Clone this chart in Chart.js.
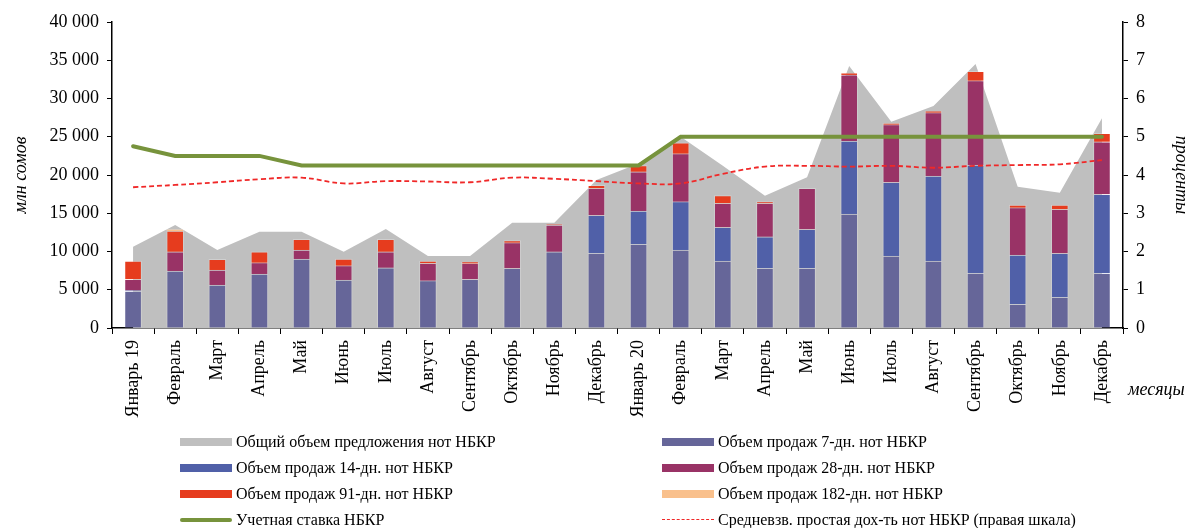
<!DOCTYPE html>
<html>
<head>
<meta charset="utf-8">
<script src="https://cdn.jsdelivr.net/npm/chart.js@4"></script>
<style>
  body { margin: 0; background: #fff; }
  #wrap { position: relative; width: 1192px; height: 528px; font-family: "Liberation Serif", serif; }
  .lg { position: absolute; font-size: 16px; line-height: 18px; color: #000; white-space: nowrap; }
  .sym { position: absolute; }
</style>
</head>
<body>
<div id="wrap">
  <canvas id="myChart"></canvas>
  <div id="legend"></div>
  <div class="lg" style="left:1128px; top:380px; font-style:italic; font-size:18px;">месяцы</div>
</div>
<script>
// данные
const months = ["Январь 19", "Февраль", "Март", "Апрель", "Май", "Июнь", "Июль", "Август", "Сентябрь", "Октябрь", "Ноябрь", "Декабрь",
  "Январь 20", "Февраль", "Март", "Апрель", "Май", "Июнь", "Июль", "Август", "Сентябрь", "Октябрь", "Ноябрь", "Декабрь"];

const total = [10630, 13460, 10200, 12590, 12590, 9970, 12940, 9410, 9410, 13770, 13770, 19350,
  21500, 25010, 21200, 17300, 19700, 34250, 26970, 29020, 34510, 18470, 17690, 27410];

const sales7 = [4800, 7450, 5620, 7060, 9020, 6270, 7880, 6190, 6370, 7800, 9970, 9760,
  10940, 10200, 8760, 7800, 7800, 14900, 9410, 8760, 7150, 3100, 4010, 7150];
const sales14 = [100, 0, 0, 0, 0, 0, 0, 0, 0, 0, 0, 4970,
  4350, 6310, 4400, 4130, 5100, 9540, 9630, 11110, 14160, 6440, 5750, 10330];
const sales28 = [1470, 2520, 1960, 1480, 1180, 1880, 2090, 2260, 2080, 3350, 3490, 3530,
  5140, 6280, 3140, 4370, 5360, 8670, 7540, 8280, 11020, 6190, 5750, 6870];
const sales91 = [2390, 2710, 1400, 1430, 1390, 870, 1620, 310, 180, 270, 60, 390,
  790, 1430, 1000, 210, 0, 220, 170, 220, 1220, 350, 570, 1100];
const sales182 = [0, 220, 0, 0, 0, 0, 0, 0, 0, 0, 0, 0,
  0, 0, 0, 0, 0, 0, 0, 0, 0, 0, 0, 0];

const rate = [4.75, 4.5, 4.5, 4.5, 4.25, 4.25, 4.25, 4.25, 4.25, 4.25, 4.25, 4.25,
  4.25, 5, 5, 5, 5, 5, 5, 5, 5, 5, 5, 5];
const yieldAvg = [3.68, 3.74, 3.81, 3.89, 3.93, 3.78, 3.84, 3.83, 3.81, 3.93, 3.90, 3.84,
  3.78, 3.78, 4.03, 4.22, 4.24, 4.22, 4.24, 4.19, 4.24, 4.26, 4.28, 4.39];

const leftTicks = [0, 5000, 10000, 15000, 20000, 25000, 30000, 35000, 40000];
const rightTicks = [0, 1, 2, 3, 4, 5, 6, 7, 8];

const fontName = "Liberation Serif";

function fmt(v) {
  return String(v).replace(/\B(?=(\d{3})+(?!\d))/g, " ");
}

function bar(label, data, color) {
  return {
    type: "bar",
    label: label,
    data: data,
    backgroundColor: color,
    borderColor: "rgba(255,255,255,0.25)",
    borderWidth: 1,
    barThickness: 17,
    stack: "sales",
    yAxisID: "y",
    order: 2,
  };
}

const ctx = document.getElementById("myChart");

new Chart(ctx, {
  data: {
    labels: months,
    datasets: [
      {
        type: "line",
        label: "Общий объем предложения нот НБКР",
        data: total,
        backgroundColor: "#bfbfbf",
        borderWidth: 0,
        pointRadius: 0,
        fill: "origin",
        tension: 0,
        stack: "area",
        yAxisID: "y",
        order: 3,
      },
      bar("Объем продаж 7-дн. нот НБКР", sales7, "#666699"),
      bar("Объем продаж 14-дн. нот НБКР", sales14, "#5060a8"),
      bar("Объем продаж 28-дн. нот НБКР", sales28, "#993366"),
      bar("Объем продаж 91-дн. нот НБКР", sales91, "#e63c1e"),
      bar("Объем продаж 182-дн. нот НБКР", sales182, "#f9c08c"),
      {
        type: "line",
        label: "Учетная ставка НБКР",
        data: rate,
        borderColor: "#77933c",
        borderWidth: 4,
        borderCapStyle: "round",
        pointRadius: 0,
        fill: false,
        tension: 0,
        yAxisID: "y1",
        order: 1,
      },
      {
        type: "line",
        label: "Средневзв. простая дох-ть нот НБКР (правая шкала)",
        data: yieldAvg,
        borderColor: "#f02828",
        borderWidth: 1.8,
        borderDash: [5, 3],
        pointRadius: 0,
        fill: false,
        tension: 0.4,
        yAxisID: "y1",
        order: 1,
      },
    ],
  },
  options: {
    responsive: true,
    maintainAspectRatio: false,
    animation: false,
    layout: { padding: { top: 22, left: 0, right: 0, bottom: 0 } },
    plugins: {
      legend: { display: false },
      tooltip: { enabled: false },
    },
    scales: {
      x: {
        stacked: true,
        offset: true,
        grid: { offset: true, drawOnChartArea: false, tickLength: 6, color: "#000" },
        border: { color: "#000", width: 1.5 },
        ticks: {
          autoSkip: false,
          minRotation: 90,
          maxRotation: 90,
          color: "#000",
          padding: 6,
          font: { family: fontName, size: 18 },
        },
        afterFit: function (s) { s.height = 200; },
      },
      y: {
        position: "left",
        stacked: true,
        min: leftTicks[0],
        max: leftTicks[leftTicks.length - 1],
        afterBuildTicks: function (s) { s.ticks = leftTicks.map(function (v) { return { value: v }; }); },
        ticks: {
          color: "#000",
          padding: 8,
          font: { family: fontName, size: 18 },
          callback: function (v) { return fmt(v); },
        },
        grid: { drawOnChartArea: false, tickLength: 5, color: "#000" },
        border: { color: "#000", width: 1.5 },
        title: {
          display: true,
          text: "млн сомов",
          color: "#000",
          padding: { top: 10, bottom: 0 },
          font: { family: fontName, size: 18, style: "italic" },
        },
        afterFit: function (s) { s.width = 112; },
      },
      y1: {
        position: "right",
        min: rightTicks[0],
        max: rightTicks[rightTicks.length - 1],
        afterBuildTicks: function (s) { s.ticks = rightTicks.map(function (v) { return { value: v }; }); },
        ticks: {
          color: "#000",
          padding: 8,
          font: { family: fontName, size: 18 },
        },
        grid: { drawOnChartArea: false, tickLength: 5, color: "#000" },
        border: { color: "#000", width: 1.5 },
        title: {
          display: true,
          text: "проценты",
          color: "#000",
          padding: { top: 0, bottom: 0 },
          font: { family: fontName, size: 18, style: "italic" },
        },
        afterFit: function (s) { s.width = 69; },
      },
    },
  },
});

// легенда в две колонки
const legendItems = [
  { text: "Общий объем предложения нот НБКР", color: "#bfbfbf", kind: "box" },
  { text: "Объем продаж 7-дн. нот НБКР", color: "#666699", kind: "box" },
  { text: "Объем продаж 14-дн. нот НБКР", color: "#5060a8", kind: "box" },
  { text: "Объем продаж 28-дн. нот НБКР", color: "#993366", kind: "box" },
  { text: "Объем продаж 91-дн. нот НБКР", color: "#e63c1e", kind: "box" },
  { text: "Объем продаж 182-дн. нот НБКР", color: "#f9c08c", kind: "box" },
  { text: "Учетная ставка НБКР", color: "#77933c", kind: "line" },
  { text: "Средневзв. простая дох-ть нот НБКР (правая шкала)", color: "#f02828", kind: "dash" },
];

const legend = document.getElementById("legend");
for (let i = 0; i < legendItems.length; i++) {
  const it = legendItems[i];
  const col = i % 2;
  const row = Math.floor(i / 2);
  const cy = 442 + row * 26;
  const sx = col === 0 ? 180 : 662;

  const sym = document.createElement("div");
  sym.className = "sym";
  sym.style.left = sx + "px";
  sym.style.width = "52px";
  if (it.kind === "box") {
    sym.style.top = (cy - 4) + "px";
    sym.style.height = "8px";
    sym.style.background = it.color;
  } else if (it.kind === "line") {
    sym.style.top = (cy - 2) + "px";
    sym.style.height = "4px";
    sym.style.borderRadius = "2px";
    sym.style.background = it.color;
  } else {
    sym.style.top = (cy - 1) + "px";
    sym.style.height = "0px";
    sym.style.borderTop = "1.5px dashed " + it.color;
  }
  legend.appendChild(sym);

  const t = document.createElement("div");
  t.className = "lg";
  t.style.left = (sx + 56) + "px";
  t.style.top = (cy - 9) + "px";
  t.textContent = it.text;
  legend.appendChild(t);
}
</script>
</body>
</html>
